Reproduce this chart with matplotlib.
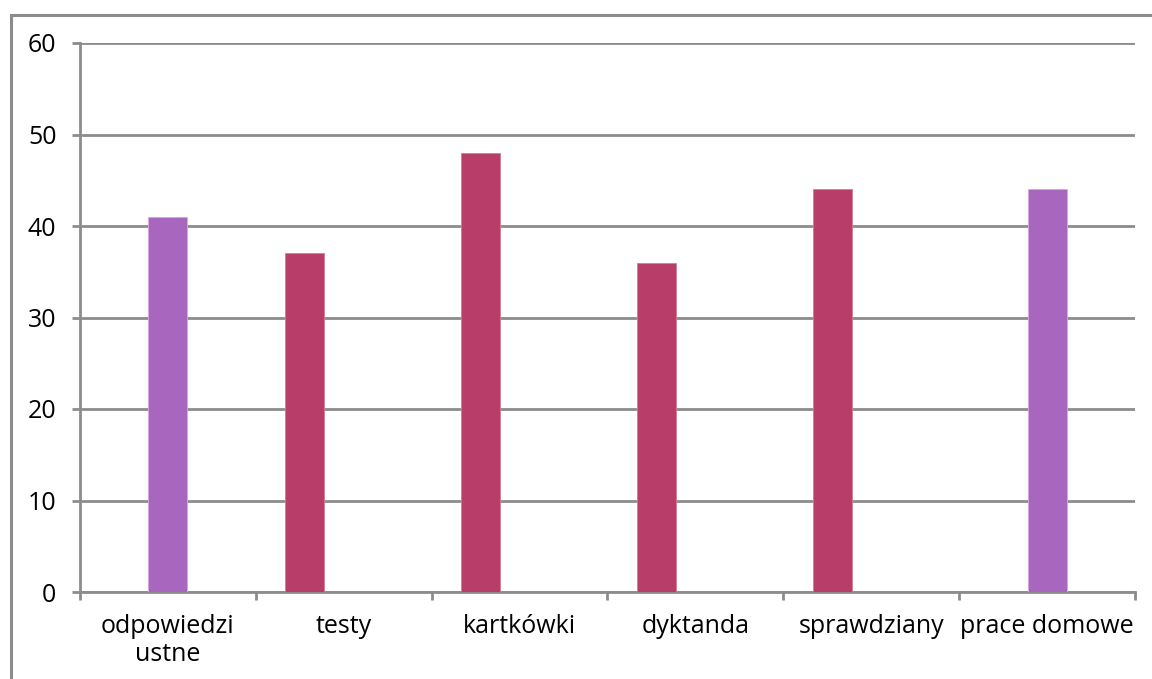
import numpy as np
import matplotlib.pyplot as plt
from matplotlib.patches import Rectangle

plt.rcParams['font.family'] = ['Open Sans', 'DejaVu Sans']

categories = ['odpowiedzi\nustne', 'testy', 'kartkówki', 'dyktanda', 'sprawdziany', 'prace domowe']
# two series: purple sits at category centre, crimson one bar to the left
purple_vals = [41, 0, 0, 0, 0, 44]
crimson_vals = [0, 37, 48, 36, 44, 0]
yticks = [0, 10, 20, 30, 40, 50, 60]

grey = '#8c8c8c'
purple = '#a966be'
crimson = '#b83d68'

W, H = 1152, 679
fig = plt.figure(figsize=(W / 100, H / 100), dpi=100)
ax = fig.add_axes([80 / W, 1 - 592 / H, (1135 - 80) / W, (592 - 43) / H])

# outer chart border
fig.patches.append(Rectangle((11 / W, -0.1), 1.2, 1 - 15 / H + 0.1, transform=fig.transFigure,
                             fill=False, edgecolor=grey, linewidth=2.2, zorder=0))

x = np.arange(len(categories))
bw = 0.222
ax.bar(x - bw, crimson_vals, width=bw, color=crimson, edgecolor='#d87a9a', linewidth=0.6, zorder=3)
ax.bar(x, purple_vals, width=bw, color=purple, edgecolor='#d4a8e0', linewidth=0.6, zorder=3)

ax.set_xlim(-0.5, len(categories) - 0.5)
ax.set_ylim(0, 60)
ax.set_yticks(yticks)
ax.yaxis.grid(True, color=grey, linewidth=2)
ax.set_axisbelow(True)

ax.set_xticks(np.arange(len(categories) + 1) - 0.5, minor=False)
ax.set_xticklabels([])
ax.set_xticks(x, minor=True)
ax.set_xticklabels(categories, minor=True, fontsize=18, linespacing=1.15)
ax.tick_params(axis='x', which='minor', length=0, pad=16)
ax.tick_params(axis='x', which='major', length=6, width=2, color=grey)
ax.tick_params(axis='y', length=6, width=2, color=grey, labelsize=18, pad=11)

for s in ['top', 'right']:
    ax.spines[s].set_visible(False)
for s in ['left', 'bottom']:
    ax.spines[s].set_color(grey)
    ax.spines[s].set_linewidth(2)

fig.savefig('out.png', dpi=100)
